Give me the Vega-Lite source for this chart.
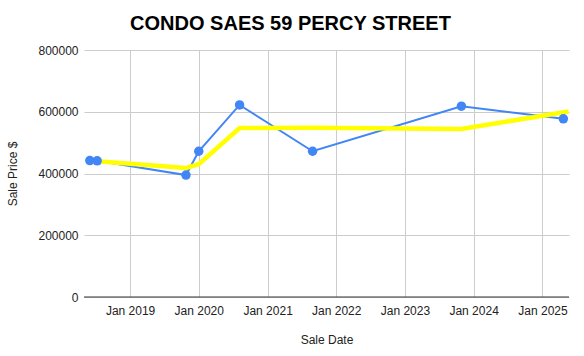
{
  "$schema": "https://vega.github.io/schema/vega-lite/v6.json",
  "width": 485,
  "height": 247,
  "autosize": {"type": "none"},
  "padding": {"left": 84, "top": 50, "right": 15, "bottom": 59},
  "background": "white",
  "config": {
    "font": "Liberation Sans",
    "view": {"stroke": null},
    "axis": {"labelFont": "Liberation Sans", "titleFont": "Liberation Sans", "labelFontSize": 12, "titleFontSize": 12, "labelColor": "#222", "titleColor": "#222", "titleFontWeight": "normal", "gridColor": "#cccccc", "gridWidth": 1, "domain": false, "ticks": false}
  },
  "title": {"text": "CONDO SAES 59 PERCY STREET", "fontSize": 20, "fontWeight": "bold", "font": "Liberation Sans", "color": "#000", "anchor": "middle", "frame": "group", "dx": -36, "offset": 10},
  "datasets": {
    "sales": [
      {"date": "2018-06-01", "price": 442000},
      {"date": "2018-07-10", "price": 441000},
      {"date": "2019-10-25", "price": 395000},
      {"date": "2020-01-01", "price": 472000},
      {"date": "2020-08-05", "price": 622000},
      {"date": "2021-08-28", "price": 472000},
      {"date": "2023-10-28", "price": 618000},
      {"date": "2025-04-22", "price": 577000}
    ],
    "trend": [
      {"date": "2018-07-10", "price": 440000},
      {"date": "2019-10-25", "price": 418000},
      {"date": "2020-01-01", "price": 430000},
      {"date": "2020-08-05", "price": 547000},
      {"date": "2021-08-28", "price": 548000},
      {"date": "2023-10-28", "price": 544000},
      {"date": "2025-05-20", "price": 601000}
    ]
  },
  "encoding": {
    "x": {"field": "date", "type": "temporal", "title": "Sale Date",
      "scale": {"domain": ["2018-05-01", "2025-05-22"]},
      "axis": {"format": "%b %Y", "tickCount": {"interval": "year", "step": 1}, "labelPadding": 8, "titlePadding": 18, "labelFlush": false}},
    "y": {"field": "price", "type": "quantitative", "title": "Sale Price $",
      "scale": {"domain": [0, 800000]},
      "axis": {"values": [0, 200000, 400000, 600000, 800000], "format": "d", "labelPadding": 6, "titlePadding": 18}}
  },
  "layer": [
    {"data": {"name": "sales"}, "mark": {"type": "line", "color": "#4285f4", "strokeWidth": 2}},
    {"data": {"name": "trend"}, "mark": {"type": "line", "color": "#ffff00", "strokeWidth": 4.5}},
    {"data": {"name": "sales"}, "mark": {"type": "point", "filled": true, "color": "#4285f4", "size": 90, "opacity": 1}},
    {"data": {"values": [{"y": 0}]}, "mark": {"type": "rule", "color": "#333", "strokeWidth": 1}, "encoding": {"y": {"field": "y", "type": "quantitative"}, "x": {"value": 0}, "x2": {"value": 485}}}
  ]
}
